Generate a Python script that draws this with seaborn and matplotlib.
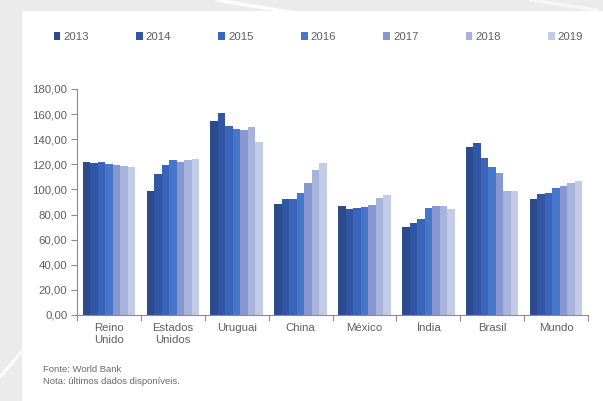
import matplotlib
matplotlib.use("Agg")
import matplotlib.pyplot as plt
from matplotlib.patches import Rectangle
from matplotlib.lines import Line2D
from matplotlib.ticker import FixedLocator, FuncFormatter
import seaborn as sns
import pandas as pd

# Countries (category axis) and years (series)
countries = ["Reino\nUnido", "Estados\nUnidos", "Uruguai", "China",
             "México", "Índia", "Brasil", "Mundo"]
years = ["2013", "2014", "2015", "2016", "2017", "2018", "2019"]

# One list of values per country, ordered 2013..2019
reino_unido = [122.1, 121.1, 121.6, 120.0, 119.7, 118.4, 117.9]
estados_unidos = [98.7, 112.0, 119.5, 123.2, 122.1, 123.7, 124.0]
uruguai = [154.7, 160.8, 150.7, 148.5, 147.5, 149.6, 138.1]
china = [88.8, 92.5, 92.5, 97.0, 104.8, 115.2, 120.8]
mexico = [87.2, 84.5, 85.3, 86.4, 87.7, 93.0, 95.2]
india = [69.9, 73.0, 76.8, 85.3, 87.2, 86.9, 84.5]
brasil = [133.9, 137.3, 125.3, 117.9, 113.1, 98.9, 98.7]
mundo = [92.5, 96.0, 97.3, 100.8, 102.9, 104.8, 106.7]

# Y axis ticks
y_ticks = [0, 20, 40, 60, 80, 100, 120, 140, 160, 180]

# Year colours, dark navy to pale lavender
year_colors = ["#2c4a8c", "#3156a6", "#3a64ba", "#4677cc",
               "#8797d0", "#a8b3dc", "#c4cbe6"]

series = [reino_unido, estados_unidos, uruguai, china, mexico, india, brasil, mundo]
rows = []
for country, vals in zip(countries, series):
    for year, v in zip(years, vals):
        rows.append({"pais": country, "ano": year, "valor": v})
df = pd.DataFrame(rows)

sns.set_theme(style="white")
plt.rcParams["font.family"] = ["Liberation Sans", "DejaVu Sans"]

fig = plt.figure(figsize=(6.03, 4.01), dpi=100)
fig.patch.set_facecolor("#ebebeb")

# Soft diagonal streaks on the grey backdrop
for x0, y0, x1, y1, a in [(0.36, 1.0, 0.52, 0.96, 0.9),
                          (0.0, 0.06, 0.04, 0.13, 0.8),
                          (0.88, 1.0, 0.99, 0.975, 0.6)]:
    fig.add_artist(Line2D([x0, x1], [y0, y1], transform=fig.transFigure,
                          color="white", lw=2.5, alpha=a, zorder=0))

# White card holding the chart
fig.add_artist(Rectangle((22 / 603, 0), 1 - 22 / 603, 1 - 11 / 401,
                         transform=fig.transFigure, facecolor="white",
                         edgecolor="none", zorder=0.5))

ax = fig.add_axes([77 / 603, 1 - 315 / 401, (588 - 77) / 603, (315 - 89) / 401])
ax.set_facecolor("none")
ax.set_zorder(1)

sns.barplot(data=df, x="pais", y="valor", hue="ano", palette=year_colors,
            width=0.82, saturation=1, linewidth=0, ax=ax, legend=True)

grey = "#8c8c8c"
text_grey = "#5f5f5f"

ax.set_ylim(0, 180)
ax.set_xlim(-0.5, len(countries) - 0.5)
ax.yaxis.set_major_locator(FixedLocator(y_ticks))
ax.yaxis.set_major_formatter(FuncFormatter(lambda v, _: f"{v:.2f}".replace(".", ",")))
ax.set_xlabel("")
ax.set_ylabel("")

for side in ["top", "right"]:
    ax.spines[side].set_visible(False)
for side in ["left", "bottom"]:
    ax.spines[side].set_color(grey)
    ax.spines[side].set_linewidth(0.8)

ax.tick_params(axis="y", which="major", length=4, width=0.8, color=grey,
               labelsize=8.2, labelcolor=text_grey, pad=3, left=True)
ax.tick_params(axis="x", which="major", length=0, labelsize=8.2,
               labelcolor=text_grey, pad=6)
ax.xaxis.set_minor_locator(FixedLocator([i + 0.5 for i in range(-1, len(countries))]))
ax.tick_params(axis="x", which="minor", length=4, width=0.8, color=grey, bottom=True)

handles, labels = ax.get_legend_handles_labels()
ax.get_legend().remove()
leg = fig.legend(handles, labels, loc="center left",
                 bbox_to_anchor=(49 / 603, 1 - 37 / 401), ncol=7, frameon=False,
                 fontsize=8.2, handlelength=0.6, handleheight=0.6,
                 handletextpad=0.25, columnspacing=4.15, borderaxespad=0)
for t in leg.get_texts():
    t.set_color(text_grey)

fig.text(43 / 603, 1 - 369 / 401, "Fonte: World Bank", fontsize=6.8,
         color="#6a6a6a", va="center", ha="left")
fig.text(43 / 603, 1 - 381 / 401, "Nota: últimos dados disponíveis.", fontsize=6.8,
         color="#6a6a6a", va="center", ha="left")

fig.savefig("out.png", dpi=100, facecolor=fig.get_facecolor())
